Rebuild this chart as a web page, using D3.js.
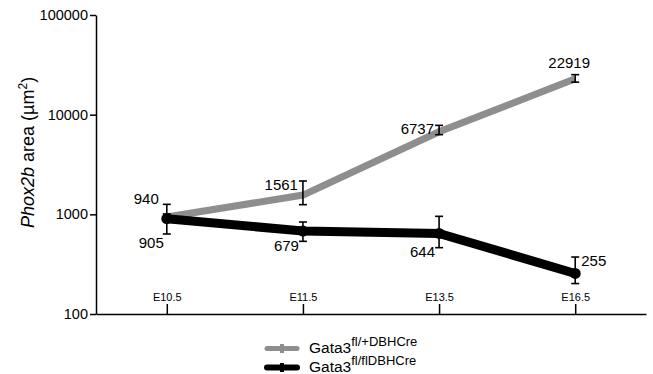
<!DOCTYPE html>
<html>
<head>
<meta charset="utf-8">
<script src="https://cdn.jsdelivr.net/npm/d3@7"></script>
<style>
  body { margin: 0; background: #fff; }
  svg text { font-family: "Liberation Sans", Arial, Helvetica, sans-serif; }
</style>
</head>
<body>
<div id="chart"></div>
<script>
// data
const stages = ["E10.5", "E11.5", "E13.5", "E16.5"];
const yTicks = [100, 1000, 10000, 100000];

const hetMean = [940, 1561, 6737, 22919];
const hetHigh = [1010, 2160, 7810, 25200];
const hetLow = [870, 1250, 6300, 21200];

const koMean = [905, 679, 644, 255];
const koHigh = [1260, 837, 955, 373];
const koLow = [635, 536, 463, 202];

const width = 653, height = 374;

const svg = d3.select("#chart")
    .append("svg")
    .attr("width", width)
    .attr("height", height);

const x = d3.scalePoint()
    .domain(stages)
    .range([96, 646])
    .padding(0.52);

const y = d3.scaleLog()
    .domain([100, 100000])
    .range([314, 15]);

// y axis
const yAxis = svg.append("g")
    .attr("transform", "translate(96,0)")
    .call(d3.axisLeft(y).tickValues(yTicks).tickFormat(d3.format("d")).tickSize(6).tickPadding(2).tickSizeOuter(0));
yAxis.select(".domain").attr("stroke-width", 1.5);
yAxis.selectAll(".tick line").attr("stroke-width", 1.5);
yAxis.selectAll("text").style("font-size", "14.5px").attr("fill", "#000");

// x axis: baseline with ticks pointing up, labels above
const xAxis = svg.append("g")
    .attr("transform", `translate(0,${y(100)})`)
    .call(d3.axisTop(x).tickSize(10).tickPadding(3).tickSizeOuter(0));
xAxis.select(".domain").attr("stroke-width", 1.5);
xAxis.selectAll(".tick line").attr("stroke-width", 1.5);
xAxis.selectAll("text").style("font-size", "11px").attr("fill", "#000");

// y axis title
const title = svg.append("text")
    .attr("transform", "translate(34,228) rotate(-90)")
    .style("font-size", "18px");
title.append("tspan").style("font-style", "italic").text("Phox2b");
title.append("tspan").text(" area (\u00b5m");
title.append("tspan").attr("dy", -7).style("font-size", "12px").text("2");
title.append("tspan").attr("dy", 7).text(")");

const line = d3.line()
    .x((d, i) => x(stages[i]))
    .y(d => y(d));

svg.append("path")
    .datum(hetMean)
    .attr("fill", "none")
    .attr("stroke", "#8e8e8e")
    .attr("stroke-width", 7)
    .attr("d", line);

svg.append("path")
    .datum(koMean)
    .attr("fill", "none")
    .attr("stroke", "#000")
    .attr("stroke-width", 9)
    .attr("d", line);

// small point markers
svg.selectAll(".ko-dot")
    .data(koMean)
    .enter().append("circle")
    .attr("cx", (d, i) => x(stages[i]))
    .attr("cy", d => y(d))
    .attr("r", 5.5)
    .attr("fill", "#000");

// error bars
function errorBars(high, low, cls) {
    const g = svg.selectAll("." + cls)
        .data(stages)
        .enter().append("g")
        .attr("class", cls)
        .attr("stroke", "#000")
        .attr("stroke-width", 1.6);
    g.append("line")
        .attr("x1", d => x(d)).attr("x2", d => x(d))
        .attr("y1", (d, i) => y(high[i])).attr("y2", (d, i) => y(low[i]));
    g.append("line")
        .attr("x1", d => x(d) - 4).attr("x2", d => x(d) + 4)
        .attr("y1", (d, i) => y(high[i])).attr("y2", (d, i) => y(high[i]));
    g.append("line")
        .attr("x1", d => x(d) - 4).attr("x2", d => x(d) + 4)
        .attr("y1", (d, i) => y(low[i])).attr("y2", (d, i) => y(low[i]));
}
errorBars(hetHigh, hetLow, "het-err");
errorBars(koHigh, koLow, "ko-err");

// value labels
const hetOffsets = [[-8, -13.5, "end"], [-5, -5, "end"], [-5, 2, "end"], [-6, -11, "middle"]];
const koOffsets = [[-3, 29, "end"], [-4, 20, "end"], [-4, 24, "end"], [6, -7.5, "start"]];

svg.selectAll(".het-label")
    .data(hetMean)
    .enter().append("text")
    .attr("class", "het-label")
    .attr("x", (d, i) => x(stages[i]) + hetOffsets[i][0])
    .attr("y", d => y(d))
    .attr("dy", (d, i) => hetOffsets[i][1])
    .attr("text-anchor", (d, i) => hetOffsets[i][2])
    .style("font-size", "15px")
    .text(d => d);

svg.selectAll(".ko-label")
    .data(koMean)
    .enter().append("text")
    .attr("class", "ko-label")
    .attr("x", (d, i) => x(stages[i]) + koOffsets[i][0])
    .attr("y", d => y(d))
    .attr("dy", (d, i) => koOffsets[i][1])
    .attr("text-anchor", (d, i) => koOffsets[i][2])
    .style("font-size", "15px")
    .text(d => d);

// legend
const legendItems = [
    { sup: "fl/+DBHCre", color: "#8e8e8e", w: 5 },
    { sup: "fl/flDBHCre", color: "#000", w: 6 }
];
const legend = svg.selectAll(".legend")
    .data(legendItems)
    .enter().append("g")
    .attr("class", "legend")
    .attr("transform", (d, i) => `translate(267,${348.5 + i * 19})`);

legend.append("line")
    .attr("x1", 0).attr("x2", 30)
    .attr("stroke", d => d.color)
    .attr("stroke-width", d => d.w)
    .attr("stroke-linecap", "round");

legend.append("rect")
    .attr("x", 13).attr("y", -4.5)
    .attr("width", 4).attr("height", 9)
    .attr("fill", d => d.color);

const lt = legend.append("text")
    .attr("x", 42)
    .attr("y", 4)
    .style("font-size", "15.5px");
lt.append("tspan").text("Gata3");
lt.append("tspan").attr("dy", -6.5).style("font-size", "13px").text(d => d.sup);
</script>
</body>
</html>
